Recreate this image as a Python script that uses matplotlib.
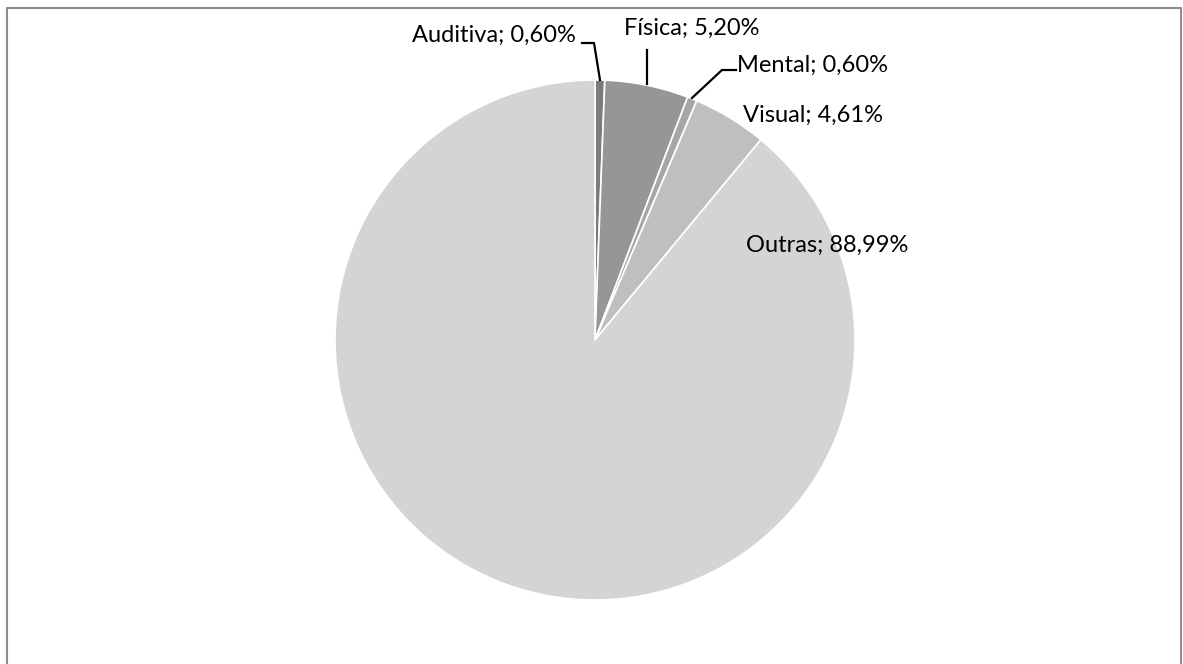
import matplotlib.pyplot as plt
from matplotlib.lines import Line2D

# data
categories = ["Auditiva", "Física", "Mental", "Visual", "Outras"]
values = [0.60, 5.20, 0.60, 4.61, 88.99]
colors = ["#7c7c7c", "#969696", "#a6a6a6", "#bfbfbf", "#d4d4d4"]

plt.rcParams['font.family'] = ['Lato', 'DejaVu Sans']

W, H = 1183, 664
fig = plt.figure(figsize=(W / 100, H / 100), dpi=100)

# pie placed at centre (595, 340) px, radius 260 px
cx, cy, r = 595, 340, 260
ax = fig.add_axes([(cx - r) / W, (H - cy - r) / H, 2 * r / W, 2 * r / H])
ax.pie(values, colors=colors, startangle=90, counterclock=False,
       wedgeprops=dict(edgecolor="white", linewidth=1.2))
ax.set_xlim(-1, 1)
ax.set_ylim(-1, 1)
ax.set_aspect("equal")
ax.axis("off")


def d(px, py):
    return ((px - cx) / r, (cy - py) / r)


def leader(*pts):
    xs, ys = zip(*[d(*p) for p in pts])
    ax.plot(xs, ys, color="black", lw=1.6, clip_on=False)


labels = [f"{c}; {v:.2f}%".replace(".", ",") for c, v in zip(categories, values)]
fs = 17

# Auditiva
ax.text(*d(576, 35), labels[0], ha="right", va="center", fontsize=fs)
leader((582, 43), (594, 43), (600, 80))
# Física
ax.text(*d(692, 28), labels[1], ha="center", va="center", fontsize=fs)
leader((647, 50), (647, 84))
# Mental
ax.text(*d(737, 65), labels[2], ha="left", va="center", fontsize=fs)
leader((736, 70), (722, 70), (692, 98))
# Visual
ax.text(*d(743, 115), labels[3], ha="left", va="center", fontsize=fs)
# Outras
ax.text(*d(746, 245), labels[4], ha="left", va="center", fontsize=fs)

# chart border
bc = "#8c8c8c"
fig.add_artist(Line2D([7 / W, 7 / W, 1181 / W, 1181 / W],
                      [0, 1 - 8 / H, 1 - 8 / H, 0],
                      color=bc, lw=1.5, transform=fig.transFigure))

fig.savefig("out.png", dpi=100)
